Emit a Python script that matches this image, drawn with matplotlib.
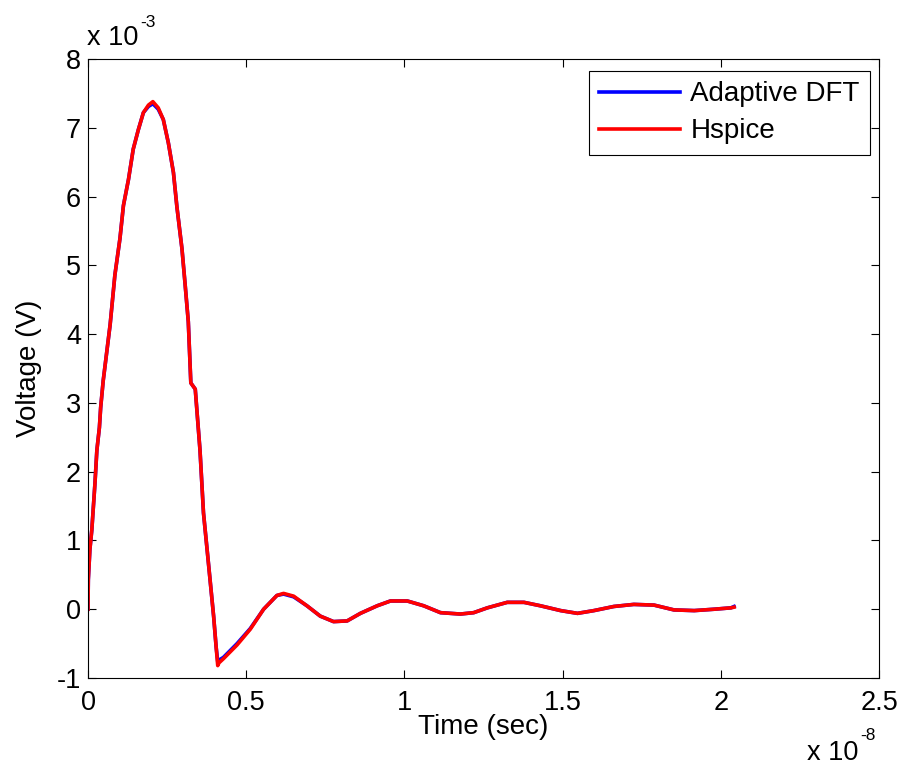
import matplotlib
matplotlib.use("Agg")
import matplotlib.pyplot as plt
from matplotlib.ticker import FuncFormatter

plt.rcParams['font.family'] = ['Liberation Sans', 'DejaVu Sans']

# transient response at the output node: time in ns, voltage in mV
t_ns = [0.00, 0.01, 0.06, 0.12, 0.17, 0.22, 0.28, 0.36, 0.40, 0.48,
        0.70, 0.85, 1.01, 1.12, 1.28, 1.43, 1.59, 1.75, 1.91, 2.05,
        2.22, 2.38, 2.54, 2.70, 2.81, 2.97, 3.07, 3.17, 3.25, 3.39,
        3.54, 3.65, 3.80, 3.97, 4.05, 4.10, 4.14, 4.28, 4.71, 5.13,
        5.55, 5.97, 6.18, 6.50, 6.92, 7.34, 7.76, 8.19, 8.61, 9.14,
        9.56, 10.09, 10.61, 11.14, 11.77, 12.19, 12.62, 13.25, 13.78, 14.30,
        14.94, 15.47, 15.99, 16.62, 17.25, 17.89, 18.52, 19.16, 19.79, 20.32,
        20.42]

v_hspice = [0.00, 0.43, 0.87, 1.15, 1.49, 1.83, 2.31, 2.64, 2.93, 3.32,
            4.14, 4.86, 5.39, 5.87, 6.25, 6.69, 6.97, 7.22, 7.33, 7.38,
            7.29, 7.12, 6.78, 6.35, 5.85, 5.24, 4.72, 4.18, 3.29, 3.20,
            2.31, 1.40, 0.70, -0.10, -0.55, -0.82, -0.78, -0.72, -0.52, -0.29,
            0.00, 0.20, 0.23, 0.19, 0.05, -0.10, -0.18, -0.17, -0.06, 0.05,
            0.12, 0.12, 0.05, -0.05, -0.07, -0.05, 0.02, 0.10, 0.10, 0.05,
            -0.02, -0.06, -0.02, 0.04, 0.07, 0.06, -0.01, -0.02, 0.00, 0.02,
            0.03]

v_adaptive = [0.00, 0.43, 0.87, 1.15, 1.49, 1.83, 2.31, 2.64, 2.93, 3.32,
              4.14, 4.86, 5.39, 5.87, 6.25, 6.69, 6.97, 7.22, 7.31, 7.35,
              7.27, 7.12, 6.78, 6.35, 5.85, 5.24, 4.72, 4.18, 3.29, 3.20,
              2.31, 1.40, 0.70, -0.10, -0.55, -0.76, -0.74, -0.70, -0.50, -0.28,
              0.00, 0.20, 0.22, 0.18, 0.05, -0.10, -0.18, -0.17, -0.06, 0.05,
              0.12, 0.12, 0.05, -0.05, -0.07, -0.05, 0.02, 0.10, 0.10, 0.05,
              -0.02, -0.06, -0.02, 0.04, 0.07, 0.06, -0.01, -0.02, 0.00, 0.02,
              0.04]

x_ticks = [0, 0.5, 1, 1.5, 2, 2.5]        # x 1e-8 s
y_ticks = [-1, 0, 1, 2, 3, 4, 5, 6, 7, 8]  # x 1e-3 V

t = [v * 1e-9 for v in t_ns]
va = [v * 1e-3 for v in v_adaptive]
vh = [v * 1e-3 for v in v_hspice]

W, H = 902, 766
fig = plt.figure(figsize=(W / 100, H / 100), dpi=100)
ax = fig.add_axes([88 / W, 88 / H, 791 / W, 619 / H])

ax.plot(t, va, color=(0, 0, 1), lw=2.6, label='Adaptive DFT')
ax.plot(t, vh, color=(1, 0, 0), lw=2.6, label='Hspice')

ax.set_xlim(0, 2.5e-8)
ax.set_ylim(-1e-3, 8e-3)
ax.set_xticks([x * 1e-8 for x in x_ticks])
ax.set_yticks([y * 1e-3 for y in y_ticks])
ax.xaxis.set_major_formatter(FuncFormatter(lambda v, p: '%g' % round(v / 1e-8, 6)))
ax.yaxis.set_major_formatter(FuncFormatter(lambda v, p: '%g' % round(v / 1e-3, 6)))

ax.tick_params(direction='in', length=5.5, width=0.8, top=True, right=True,
               labelsize=19.5, colors='black')
ax.tick_params(axis='x', pad=8.5)
ax.tick_params(axis='y', pad=5)
for s in ax.spines.values():
    s.set_linewidth(0.8)
    s.set_color('black')

ax.set_xlabel('Time (sec)', fontsize=20)
ax.set_ylabel('Voltage (V)', fontsize=20)
ax.xaxis.set_label_coords(0.5, -0.058)
ax.yaxis.set_label_coords(-0.058, 0.5)

# exponent labels in the corners, MATLAB style
fig.text(87 / W, 1 - 45 / H, 'x 10', fontsize=19.5, ha='left', va='baseline')
fig.text(140 / W, 1 - 27 / H, '-3', fontsize=12.5, ha='left', va='baseline')
fig.text(858 / W, 1 - 760 / H, 'x 10', fontsize=19.5, ha='right', va='baseline')
fig.text(860 / W, 1 - 740 / H, '-8', fontsize=12.5, ha='left', va='baseline')

leg = ax.legend(loc='upper right', bbox_to_anchor=(0.9886, 0.9806),
                borderaxespad=0, fancybox=False, framealpha=1,
                edgecolor='black', fontsize=20, handlelength=2.9,
                handletextpad=0.38, borderpad=0.37, labelspacing=0.4)
leg.get_frame().set_linewidth(0.8)

fig.savefig('out.png', dpi=100, facecolor='white')
